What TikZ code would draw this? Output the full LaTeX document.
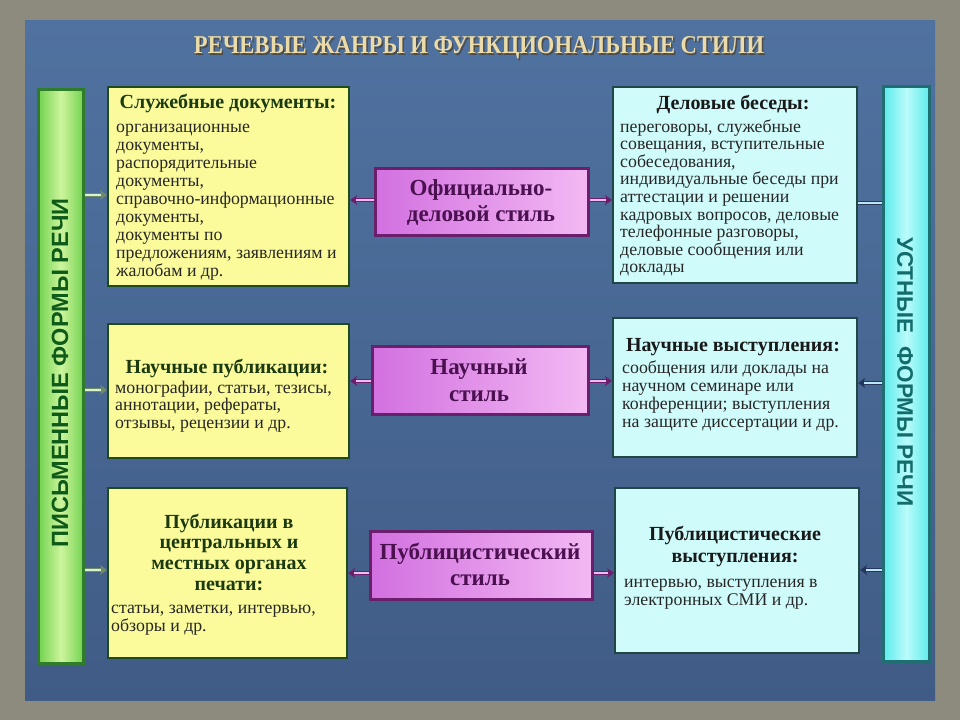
\documentclass[tikz,border=0pt]{standalone}
\usepackage{fontspec}
\setmainfont{Liberation Serif}
\newfontfamily\barfont{Liberation Sans}
\usetikzlibrary{arrows.meta}
\definecolor{outerc}{HTML}{8C8B7D}
\definecolor{paneltop}{HTML}{5072A0}
\definecolor{panelbot}{HTML}{405C86}
\definecolor{titlec}{HTML}{EADBA8}
\definecolor{yfill}{HTML}{FBFB9C}
\definecolor{ydraw}{HTML}{1F4A1C}
\definecolor{yhead}{HTML}{1C3A12}
\definecolor{cfill}{HTML}{D0FBFB}
\definecolor{cdraw}{HTML}{214646}
\definecolor{pdraw}{HTML}{6A1E6C}
\definecolor{pleft}{HTML}{D270E0}
\definecolor{pright}{HTML}{F3B9F3}
\definecolor{ptext}{HTML}{4A1050}
\definecolor{gdraw}{HTML}{2F7D2A}
\definecolor{gedge}{HTML}{72D34F}
\definecolor{gmid}{HTML}{CDF49E}
\definecolor{gtext}{HTML}{0E5A18}
\definecolor{bdraw}{HTML}{1F6E72}
\definecolor{bedge}{HTML}{5CEBEC}
\definecolor{bmid}{HTML}{BBFBFB}
\definecolor{btext}{HTML}{136C6C}
\definecolor{textc}{HTML}{262626}
\definecolor{garout}{HTML}{6E8A6A}
\definecolor{garin}{HTML}{D8F5C8}
\definecolor{barout}{HTML}{24365A}
\definecolor{barin}{HTML}{BCE6F2}
\begin{document}
\begin{tikzpicture}[x=1pt,y=-1pt,
  ybox/.style={draw=ydraw,line width=2.2pt,fill=yfill,anchor=north west,inner sep=0},
  cbox/.style={draw=cdraw,line width=2.2pt,fill=cfill,anchor=north west,inner sep=0},
  pbox/.style={draw=pdraw,line width=3pt,left color=pleft,right color=pright,anchor=north west,inner sep=0},
  bodyt/.style={font=\fontsize{17.8}{18}\selectfont,anchor=base west,inner sep=0,text=textc},
  headt/.style={font=\fontsize{20}{20}\selectfont\bfseries,anchor=base,inner sep=0,text=yhead},
  cheadt/.style={font=\fontsize{20}{20}\selectfont\bfseries,anchor=base,inner sep=0,text=black!90},
  ptextt/.style={font=\fontsize{23}{24}\selectfont\bfseries,anchor=base,inner sep=0,text=ptext},
  hollow/.style 2 args={draw=#1,line width=3.6pt,-{Stealth[length=7pt,width=10pt]},
     postaction={draw=#2,line width=1.6pt,shorten >=6pt,-{}}},
  garrow/.style={hollow={garout}{garin}},
  parrow/.style={hollow={pdraw}{pright}},
  barrow/.style={hollow={barout}{barin}},
  bline/.style={draw=barout,line width=4pt,postaction={draw=barin,line width=2pt}}
]
\useasboundingbox (0,0) rectangle (960,720);
\fill[outerc] (0,0) rectangle (960,720);
\shade[top color=paneltop,bottom color=panelbot] (25,20) rectangle (935,700);

% title
\node[font=\bfseries,text=black!70,inner sep=0] (titlesh) at (480.5,49.5) {\resizebox{570pt}{17pt}{РЕЧЕВЫЕ ЖАНРЫ И ФУНКЦИОНАЛЬНЫЕ СТИЛИ}};
\node[font=\bfseries,text=titlec,inner sep=0] (title) at (479,48) {\resizebox{570pt}{17pt}{РЕЧЕВЫЕ ЖАНРЫ И ФУНКЦИОНАЛЬНЫЕ СТИЛИ}};

% side bars
\node[draw=gdraw,line width=3pt,left color=gedge,right color=gedge,middle color=gmid,minimum width=45pt,minimum height=574pt,anchor=north west,inner sep=0] (gbar) at (37,88) {};
\node[rotate=90,font=\barfont\bfseries\fontsize{23.5}{26}\selectfont,text=gtext,inner sep=0] (gtxt) at (60,373) {ПИСЬМЕННЫЕ ФОРМЫ РЕЧИ};
\node[draw=bdraw,line width=3pt,left color=bedge,right color=bedge,middle color=bmid,minimum width=46pt,minimum height=575pt,anchor=north west,inner sep=0] (bbar) at (882,85) {};
\node[rotate=-90,font=\barfont\bfseries\fontsize{22.5}{26}\selectfont,text=btext,inner sep=0] (btxt) at (905,372) {УСТНЫЕ\ \ ФОРМЫ РЕЧИ};

% yellow boxes
\node[ybox,minimum width=241pt,minimum height=199pt] (y1) at (107,86) {};
\node[ybox,minimum width=241pt,minimum height=134pt] (y2) at (107,323) {};
\node[ybox,minimum width=239pt,minimum height=170pt] (y3) at (107,487) {};
% cyan boxes
\node[cbox,minimum width=244pt,minimum height=196pt] (c1) at (612,86) {};
\node[cbox,minimum width=244pt,minimum height=139pt] (c2) at (612,317) {};
\node[cbox,minimum width=244pt,minimum height=165pt] (c3) at (614,487) {};
% purple boxes
\node[pbox,minimum width=213pt,minimum height=67pt] (p1) at (374,167) {};
\node[pbox,minimum width=216pt,minimum height=68pt] (p2) at (371,345) {};
\node[pbox,minimum width=222pt,minimum height=68pt] (p3) at (369,530) {};

% row levels
\coordinate (ga1) at (0,195); \coordinate (pa1) at (0,200); \coordinate (ba1) at (0,203);
\coordinate (ga2) at (0,390); \coordinate (pa2) at (0,381); \coordinate (ba2) at (0,383);
\coordinate (ga3) at (0,570); \coordinate (pa3) at (0,573); \coordinate (ba3) at (0,570);

% connectors
\draw[garrow] (gbar.east |- ga1) -- (y1.west |- ga1);
\draw[garrow] (gbar.east |- ga2) -- (y2.west |- ga2);
\draw[garrow] (gbar.east |- ga3) -- (y3.west |- ga3);
\draw[parrow] (p1.west |- pa1) -- (y1.east |- pa1);
\draw[parrow] (p2.west |- pa2) -- (y2.east |- pa2);
\draw[parrow] (p3.west |- pa3) -- (y3.east |- pa3);
\draw[parrow] (p1.east |- pa1) -- (c1.west |- pa1);
\draw[parrow] (p2.east |- pa2) -- (c2.west |- pa2);
\draw[parrow] (p3.east |- pa3) -- (c3.west |- pa3);
\draw[bline] (bbar.west |- ba1) -- (c1.east |- ba1);
\draw[barrow] (bbar.west |- ba2) -- (c2.east |- ba2);
\draw[barrow] (bbar.west |- ba3) -- (c3.east |- ba3);

% purple texts
\node[ptextt] (p1a) at (481,195) {Официально-};
\node[ptextt] (p1b) at (481,221) {деловой стиль};
\node[ptextt] (p2a) at (479,374) {Научный};
\node[ptextt] (p2b) at (479,401) {стиль};
\node[ptextt] (p3a) at (480,559) {Публицистический};
\node[ptextt] (p3b) at (480,585) {стиль};

% yellow texts
\node[headt] (y1h) at (228,108) {Служебные документы:};
\foreach \t [count=\i from 0] in {{организационные},{документы,},{распорядительные},{документы,},{справочно-информационные},{документы,},{документы по},{предложениям, заявлениям и},{жалобам и др.}}
  \node[bodyt] (y1l\i) at (116,132+18*\i) {\t};
\node[headt] (y2h) at (227,373) {Научные публикации:};
\foreach \t [count=\i from 0] in {{монографии, статьи, тезисы,},{аннотации, рефераты,},{отзывы, рецензии и др.}}
  \node[bodyt] (y2l\i) at (115,393+17.5*\i) {\t};
\foreach \t [count=\i from 0] in {{Публикации в},{центральных и},{местных органах},{печати:}}
  \node[headt] (y3h\i) at (229,528+20.7*\i) {\t};
\foreach \t [count=\i from 0] in {{статьи, заметки, интервью,},{обзоры и др.}}
  \node[bodyt] (y3l\i) at (111,613+18*\i) {\t};

% cyan texts
\node[cheadt] (c1h) at (733,109) {Деловые беседы:};
\foreach \t [count=\i from 0] in {{переговоры, служебные},{совещания, вступительные},{собеседования,},{индивидуальные беседы при},{аттестации и решении},{кадровых вопросов, деловые},{телефонные разговоры,},{деловые сообщения или},{доклады}}
  \node[bodyt] (c1l\i) at (620,132+17.6*\i) {\t};
\node[cheadt] (c2h) at (733,351) {Научные выступления:};
\foreach \t [count=\i from 0] in {{сообщения или доклады на},{научном семинаре или},{конференции; выступления},{на защите диссертации и др.}}
  \node[bodyt] (c2l\i) at (622,373+18*\i) {\t};
\foreach \t [count=\i from 0] in {{Публицистические},{выступления:}}
  \node[cheadt] (c3h\i) at (735,540+22*\i) {\t};
\foreach \t [count=\i from 0] in {{интервью, выступления в},{электронных СМИ и др.}}
  \node[bodyt] (c3l\i) at (624,587+18*\i) {\t};
\end{tikzpicture}
\end{document}
